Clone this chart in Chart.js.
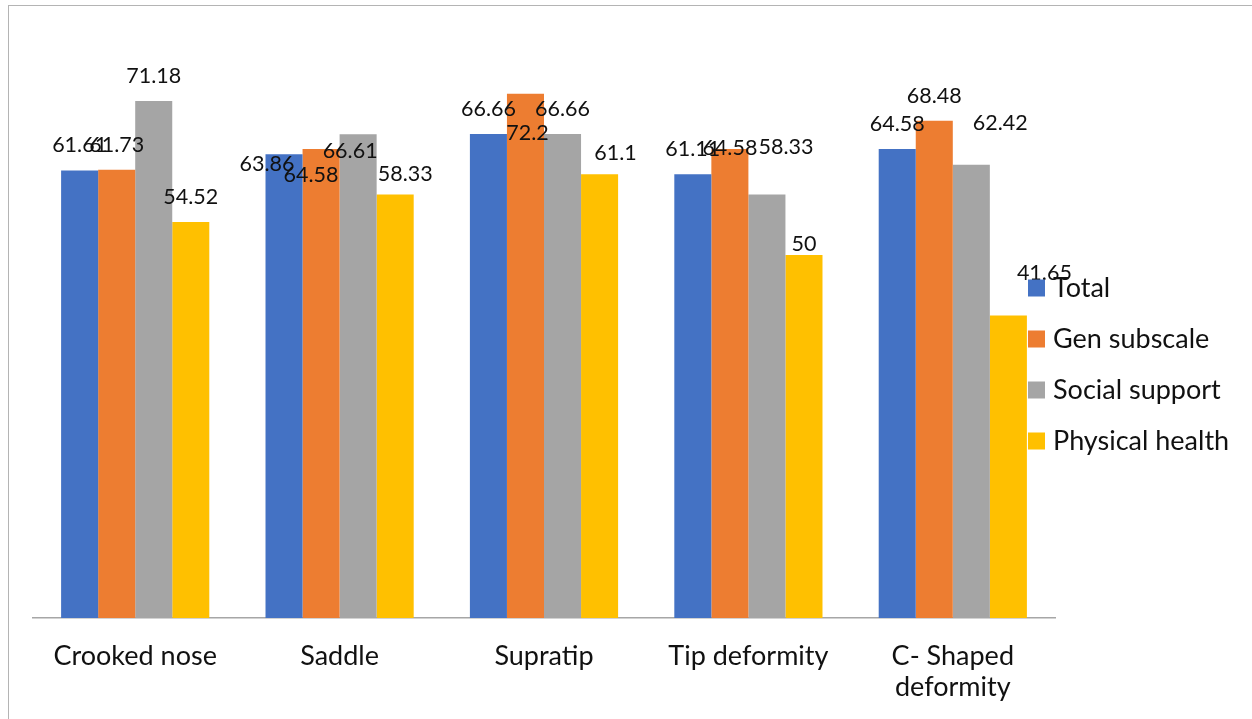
<!DOCTYPE html>
<html>
<head>
<meta charset="utf-8">
<script src="https://cdn.jsdelivr.net/npm/chart.js@4.4.1/dist/chart.umd.min.js"></script>
<style>
  html, body { margin: 0; padding: 0; background: #fff; }
  #wrap { position: relative; width: 1252px; height: 719px; overflow: hidden; }
  #frame {
    position: absolute; left: 8px; top: 5px; width: 1400px; height: 900px;
    border-top: 1.5px solid #b4b4b4; border-left: 1.5px solid #b4b4b4;
  }
  canvas { position: absolute; left: 0; top: 0; }
</style>
</head>
<body>
<div id="wrap">
  <div id="frame"></div>
  <canvas id="myChart" width="1252" height="719"></canvas>
</div>
<script>
(() => {
  "use strict";

  // Deformity groups and their scores
  const categories = ["Crooked nose", "Saddle", "Supratip", "Tip deformity", ["C- Shaped", "deformity"]];
  const seriesNames = ["Total", "Gen subscale", "Social support", "Physical health"];
  const totalScores = [61.61, 63.86, 66.66, 61.11, 64.58];
  const genSubscale = [61.73, 64.58, 72.2, 64.58, 68.48];
  const socialSupport = [71.18, 66.61, 66.66, 58.33, 62.42];
  const physicalHealth = [54.52, 58.33, 61.1, 50, 41.65];
  const colors = ["#4472C4", "#ED7D31", "#A5A5A5", "#FFC000"];

  // Value labels crowd each other in a few groups, so those get shifted a bit
  // key: "dataset-index" -> [dx, dy]
  const labelNudges = {
    "0-1": [-17, 35], "1-1": [-10, 51], "2-1": [-8, 42], "3-1": [10, 5],
    "1-2": [2, 64], "3-2": [16, 4],
    "1-3": [0, 24], "2-3": [19, -22], "3-3": [0, 14],
    "2-4": [29, -17], "3-4": [36, -17]
  };

  const fontFamily = "Lato, 'Noto Sans', sans-serif";

  // Draws the value above every bar
  const valueLabels = {
    id: "valueLabels",
    afterDatasetsDraw(chart) {
      const ctx = chart.ctx;
      ctx.save();
      ctx.font = "21.5px " + fontFamily;
      ctx.fillStyle = "#111";
      ctx.textAlign = "center";
      ctx.textBaseline = "middle";
      chart.data.datasets.forEach((ds, di) => {
        chart.getDatasetMeta(di).data.forEach((bar, i) => {
          const nudge = labelNudges[di + "-" + i] || [0, 0];
          ctx.fillText(String(ds.data[i]), bar.x + nudge[0], bar.y - 25 + nudge[1]);
        });
      });
      ctx.restore();
    }
  };

  // Legend sits on the right, overlapping the last group
  const sideLegend = {
    id: "sideLegend",
    afterDraw(chart) {
      const ctx = chart.ctx;
      ctx.save();
      ctx.font = "27px " + fontFamily;
      ctx.textBaseline = "middle";
      ctx.textAlign = "left";
      chart.data.datasets.forEach((ds, di) => {
        const y = 288 + di * 51;
        ctx.fillStyle = ds.backgroundColor;
        ctx.fillRect(1028, y - 8.5, 17, 17);
        ctx.fillStyle = "#111";
        ctx.fillText(ds.label, 1053, y);
      });
      ctx.restore();
    }
  };

  const seriesValues = [totalScores, genSubscale, socialSupport, physicalHealth];

  const ctx = document.getElementById("myChart");
  new Chart(ctx, {
    type: "bar",
    data: {
      labels: categories,
      datasets: seriesValues.map((vals, i) => ({
        label: seriesNames[i],
        data: vals,
        backgroundColor: colors[i],
        borderWidth: 0,
        categoryPercentage: 0.725,
        barPercentage: 1.0
      }))
    },
    options: {
      responsive: false,
      animation: false,
      devicePixelRatio: 1,
      layout: { padding: { left: 33, right: 197, top: 37, bottom: 0 } },
      plugins: {
        legend: { display: false },
        tooltip: { enabled: false }
      },
      scales: {
        x: {
          grid: { display: false, drawTicks: false, tickLength: 0 },
          border: { display: true, color: "#a6a6a6", width: 1.5 },
          ticks: {
            padding: 22,
            maxRotation: 0,
            autoSkip: false,
            color: "#111",
            font: { family: fontFamily, size: 27, lineHeight: 1.18 }
          },
          afterFit(scale) {
            scale.height = 101;
          }
        },
        y: {
          display: false,
          min: 0,
          max: 80
        }
      }
    },
    plugins: [valueLabels, sideLegend]
  });
})();
</script>
</body>
</html>
